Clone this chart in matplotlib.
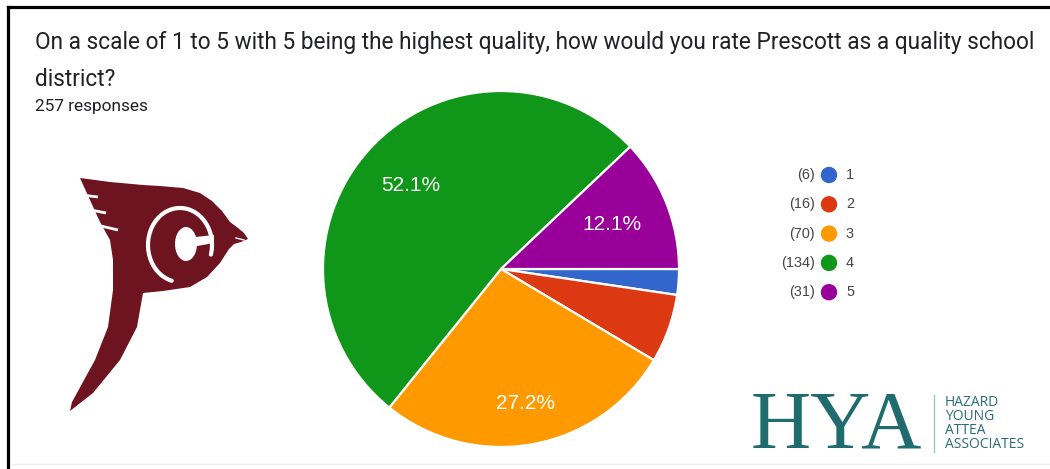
import matplotlib
matplotlib.use("Agg")
import matplotlib.pyplot as plt
import numpy as np
from matplotlib.patches import Polygon, Ellipse, Circle
from matplotlib.lines import Line2D

# ---- data ----
title_line1 = "On a scale of 1 to 5 with 5 being the highest quality, how would you rate Prescott as a quality school"
title_line2 = "district?"
subtitle = "257 responses"
categories = ["1", "2", "3", "4", "5"]
counts = [6, 16, 70, 134, 31]
colors = ["#3366cc", "#dc3912", "#ff9900", "#109618", "#990099"]

W, H = 1050, 469
fig = plt.figure(figsize=(W / 100, H / 100), dpi=100)
fig.patch.set_facecolor("white")

# overlay axes in pixel coordinates for decorations
deco = fig.add_axes([0, 0, 1, 1])
deco.set_xlim(0, W)
deco.set_ylim(H, 0)
deco.axis("off")

# frame lines (top and left)
deco.add_line(Line2D([7.5, W], [7.5, 7.5], color="black", lw=2.3))
deco.add_line(Line2D([7.5, 7.5], [7.5, H], color="black", lw=2.3))
deco.add_line(Line2D([12, W], [464, 464], color="#ededed", lw=1))

# title text
font = "Roboto"
deco.text(35, 43, title_line1, fontsize=16.3, family=font, color="#202124", va="center", ha="left")
deco.text(35, 79, title_line2, fontsize=16.3, family=font, color="#202124", va="center", ha="left")
deco.text(35, 106, subtitle, fontsize=12.4, family=font, color="#202124", va="center", ha="left")

# ---- pie ----
cx, cy, r = 501, 269, 178
pie_ax = fig.add_axes([(cx - r) / W, (H - cy - r) / H, 2 * r / W, 2 * r / H])
wedges, texts, autotexts = pie_ax.pie(
    counts, colors=colors, startangle=0, counterclock=False, radius=1,
    autopct=lambda p: f"{p:.1f}%" if p > 10 else "",
    pctdistance=0.7,
    wedgeprops=dict(edgecolor="white", linewidth=1.6),
    textprops=dict(color="white", fontsize=15, family="Liberation Sans"))
pie_ax.set_xlim(-1, 1)
pie_ax.set_ylim(-1, 1)
pie_ax.set_aspect("equal")
pie_ax.axis("off")
# per-label radial distances
dists = {2: 0.77, 3: 0.69, 4: 0.67}
for i, t in enumerate(autotexts):
    if i in dists:
        w = wedges[i]
        ang = np.deg2rad((w.theta1 + w.theta2) / 2)
        t.set_position((dists[i] * np.cos(ang), dists[i] * np.sin(ang)))

# ---- legend ----
leg_y0, leg_dy = 175, 29.3
for i, (cat, cnt, col) in enumerate(zip(categories, counts, colors)):
    y = leg_y0 + i * leg_dy
    deco.text(815, y, f"({cnt})", fontsize=10.4, family="Liberation Sans", color="#444444", ha="right", va="center")
    deco.add_patch(Circle((829, y), 7.5, color=col))
    deco.text(846, y, cat, fontsize=10.4, family="Liberation Sans", color="#444444", ha="left", va="center")

# ---- Prescott logo (approximate shape) ----
maroon = "#6e1420"
body = [(80, 178), (110, 182), (143, 185), (160, 186), (183, 188), (200, 193), (212, 201), (222, 211),
        (230, 222), (238, 228), (244, 233), (248, 239), (241, 242), (234, 244), (229, 249), (220, 263),
        (207, 277), (190, 287), (163, 291), (143, 293), (137, 327), (120, 360), (93, 393), (70, 411),
        (72, 402), (95, 360), (108, 327), (113, 290), (113, 260), (110, 240), (100, 222), (90, 200)]
deco.add_patch(Polygon(body, closed=True, color=maroon, lw=0))
for (x1, y1, x2, y2) in [(82, 195, 98, 197), (91, 210, 106, 213), (101, 226, 118, 230)]:
    deco.add_line(Line2D([x1, x2], [y1, y2], color="white", lw=2.0, solid_capstyle="butt"))
deco.add_line(Line2D([236, 244], [238, 240], color="white", lw=1.0))
# white outline around the C (open at the bottom right)
t = np.deg2rad(np.linspace(-15, 255, 120))
deco.add_line(Line2D(180 + 32 * np.cos(t), 245 - 37 * np.sin(t), color="white", lw=3.0,
                     solid_capstyle="round"))
deco.add_patch(Ellipse((186, 244), 22, 34, color="white", lw=0))
deco.add_patch(Polygon([(186, 238), (214, 235), (214, 243), (186, 248)], closed=True, color="white", lw=0))

# ---- HYA logo ----
teal = "#1f6b6e"
deco.text(836, 428, "HYA", fontsize=60, family="Liberation Serif", color=teal, ha="center", va="center")
deco.add_line(Line2D([934, 934], [395, 452], color="#9cc7c7", lw=1))
for j, word in enumerate(["HAZARD", "YOUNG", "ATTEA", "ASSOCIATES"]):
    deco.text(945, 403 + j * 14, word, fontsize=10, family="Open Sans", color="#2b6b7a", ha="left", va="center")

fig.savefig("out.png", dpi=100, facecolor="white")
